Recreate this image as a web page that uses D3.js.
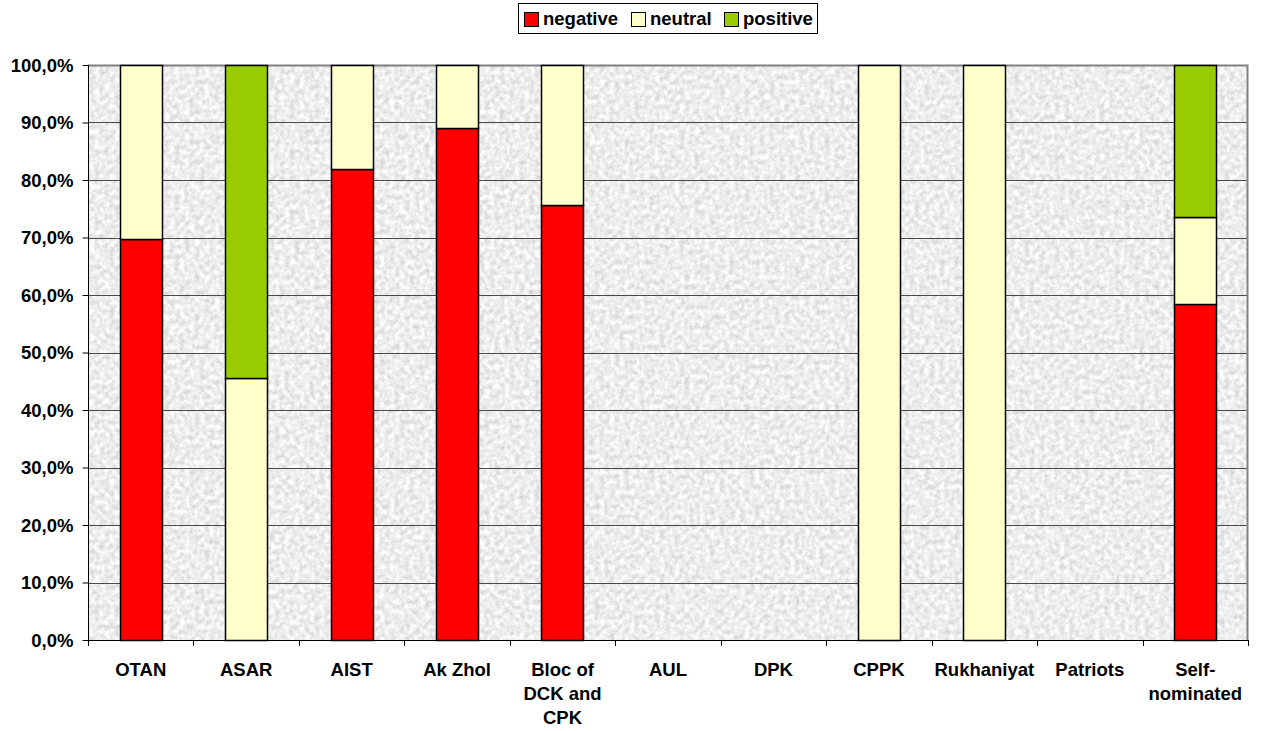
<!DOCTYPE html>
<html><head><meta charset="utf-8">
<script src="https://cdn.jsdelivr.net/npm/d3@7"></script>
<style>body{margin:0;background:#fff;} svg{display:block;font-family:Arial,"Liberation Sans",sans-serif;}</style>
</head><body>
<svg id="c" width="1265" height="731"></svg>
<script>
const categories = ["OTAN","ASAR","AIST","Ak Zhol","Bloc of DCK and CPK","AUL","DPK","CPPK","Rukhaniyat","Patriots","Self-nominated"];
const categoryLines = [["OTAN"],["ASAR"],["AIST"],["Ak Zhol"],["Bloc of","DCK and","CPK"],["AUL"],["DPK"],["CPPK"],["Rukhaniyat"],["Patriots"],["Self-","nominated"]];
const seriesNames = ["negative","neutral","positive"];
const negative = [0.698, 0, 0.82, 0.89, 0.757, 0, 0, 0, 0, 0, 0.584];
const neutral  = [0.302, 0.455, 0.18, 0.11, 0.243, 0, 0, 1, 1, 0, 0.151];
const positive = [0, 0.545, 0, 0, 0, 0, 0, 0, 0, 0, 0.265];
const yTicks = [0,0.1,0.2,0.3,0.4,0.5,0.6,0.7,0.8,0.9,1.0];
const colors = ["#ff0000","#ffffcc","#99cc00"];

const FS = 18.5;
const svg = d3.select("#c");
const m = {l:88, r:1248, t:65, b:640};
const x = d3.scaleBand().domain(categories).range([m.l,m.r]).paddingInner(0.6).paddingOuter(0.3);
const xb = d3.scaleBand().domain(categories).range([m.l,m.r]);
const y = d3.scaleLinear().domain([0,1]).range([m.b,m.t]);

const defs = svg.append("defs");
const f = defs.append("filter").attr("id","noise").attr("x",0).attr("y",0).attr("width","100%").attr("height","100%")
  .attr("filterUnits","objectBoundingBox").attr("color-interpolation-filters","sRGB");
f.append("feTurbulence").attr("type","fractalNoise").attr("baseFrequency",0.2).attr("numOctaves",3).attr("seed",4).attr("result","t");
f.append("feColorMatrix").attr("in","t").attr("type","matrix")
 .attr("values","0.28 0 0 0 0.79  0.28 0 0 0 0.79  0.28 0 0 0 0.79  0 0 0 0 1");

svg.append("rect").attr("x",m.l).attr("y",m.t).attr("width",m.r-m.l).attr("height",m.b-m.t).attr("fill","#ececec");
svg.append("rect").attr("x",m.l).attr("y",m.t).attr("width",m.r-m.l).attr("height",m.b-m.t).attr("fill","#fff").attr("filter","url(#noise)");

// gridlines
svg.append("g").selectAll("line").data(yTicks.slice(1)).join("line")
  .attr("x1",m.l).attr("x2",m.r).attr("y1",d=>Math.round(y(d))+0.5).attr("y2",d=>Math.round(y(d))+0.5)
  .attr("stroke","#4a4a4a").attr("stroke-width",1);
// border top/right grey
svg.append("path").attr("d",`M${m.l},${m.t+0.5}H${m.r-0.5}V${m.b}`).attr("fill","none").attr("stroke","#808080").attr("stroke-width",2);

// stacked bars
const data = categories.map((c,i)=>({cat:c, negative:negative[i], neutral:neutral[i], positive:positive[i]}));
const stack = d3.stack().keys(seriesNames)(data);
svg.append("g").selectAll("g").data(stack).join("g").attr("fill",(d,i)=>colors[i])
  .selectAll("rect").data(d=>d.filter(p=>p[1]-p[0]>0)).join("rect")
  .attr("x",d=>Math.round(x(d.data.cat))+0.5).attr("width",Math.round(x.bandwidth()))
  .attr("y",d=>Math.round(y(d[1]))+0.5).attr("height",d=>Math.round(y(d[0]))-Math.round(y(d[1])))
  .attr("stroke","#000").attr("stroke-width",1.5);

// y axis
const ya = svg.append("g").attr("transform",`translate(${m.l+0.5},0)`)
  .call(d3.axisLeft(y).tickValues(yTicks).tickSize(6).tickPadding(9).tickFormat(d=>(d*100).toFixed(1).replace(".",",")+"%"));
ya.select(".domain").attr("stroke","#000").attr("d",`M0,${m.t}V${m.b+0.5}`);
ya.selectAll(".tick line").attr("stroke","#000");
ya.selectAll("text").attr("font-size",FS).attr("font-weight","bold").attr("fill","#000").attr("dy","0.35em").attr("font-family","Arial,'Liberation Sans',sans-serif");

// x axis
svg.append("line").attr("x1",m.l).attr("x2",m.r).attr("y1",m.b+0.5).attr("y2",m.b+0.5).attr("stroke","#000");
svg.append("g").selectAll("line").data(categories.concat(["__end"])).join("line")
  .attr("x1",(d,i)=>Math.round(i<categories.length?xb(d):m.r)+0.5).attr("x2",(d,i)=>Math.round(i<categories.length?xb(d):m.r)+0.5)
  .attr("y1",m.b).attr("y2",m.b+6).attr("stroke","#000");
const xl = svg.append("g").selectAll("text").data(categories).join("text")
  .attr("x",d=>xb(d)+xb.bandwidth()/2).attr("y",676).attr("text-anchor","middle")
  .attr("font-size",FS).attr("font-weight","bold").attr("fill","#000");
xl.each(function(d,i){
  const t=d3.select(this);
  categoryLines[i].forEach((ln,j)=>t.append("tspan").attr("x",xb(d)+xb.bandwidth()/2).attr("dy",j?24:0).text(ln));
});

// legend
const lg = svg.append("g");
lg.append("rect").attr("x",518.5).attr("y",3.5).attr("width",299).attr("height",30).attr("fill","#fff").attr("stroke","#000");
const lx=[524,631,724];
seriesNames.forEach((s,i)=>{
  lg.append("rect").attr("x",lx[i]+0.5).attr("y",12.5).attr("width",14).attr("height",14).attr("fill",colors[i]).attr("stroke","#000");
  lg.append("text").attr("x",lx[i]+19).attr("y",25).attr("font-size",FS).attr("font-weight","bold").text(s);
});
</script>
</body></html>
